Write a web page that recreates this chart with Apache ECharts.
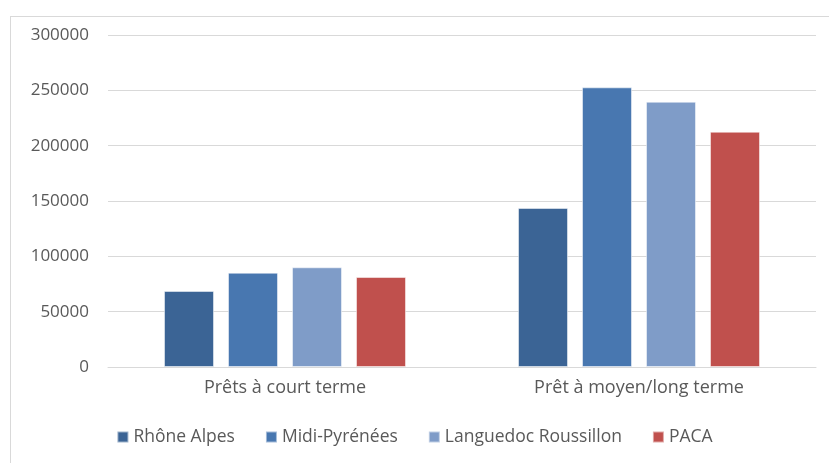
<!DOCTYPE html>
<html><head><meta charset="utf-8">
<script src="https://cdn.jsdelivr.net/npm/echarts@6/dist/echarts.min.js"></script>
<style>
html,body{margin:0;padding:0;background:#fff;}
#frame{position:absolute;left:10px;top:16px;width:830px;height:460px;border:1px solid #d9d9d9;box-sizing:border-box;}
#c{position:absolute;left:0;top:0;width:829px;height:463px;}
</style></head>
<body>
<div id="frame"></div>
<div id="c"></div>
<script>
const categories = ['Prêts à court terme', 'Prêt à moyen/long terme'];
const seriesNames = ['Rhône Alpes', 'Midi-Pyrénées', 'Languedoc Roussillon', 'PACA'];
const rhoneAlpes = [68700, 143700];
const midiPyrenees = [85200, 252700];
const languedocRoussillon = [90100, 239700];
const paca = [81300, 212600];
const colors = ['#3B6495', '#4877B0', '#7F9CC8', '#C0504D'];

const values = [rhoneAlpes, midiPyrenees, languedocRoussillon, paca];
const font = '"Open Sans", sans-serif';
const chart = echarts.init(document.getElementById('c'));
chart.setOption({
  animation: false,
  color: colors,
  grid: {left: 108, right: 13, top: 35, bottom: 96},
  legend: {
    bottom: 12, left: 'center', itemWidth: 11, itemHeight: 11, itemGap: 30,
    icon: 'rect',
    textStyle: {color: '#595959', fontSize: 17.5, fontFamily: font},
    data: seriesNames
  },
  xAxis: {
    type: 'category', data: categories,
    axisLine: {lineStyle: {color: '#d9d9d9', width: 1}},
    axisTick: {show: false},
    axisLabel: {color: '#595959', fontSize: 18, fontFamily: font, margin: 12}
  },
  yAxis: {
    type: 'value', min: 0, max: 300000, interval: 50000,
    axisLine: {show: false}, axisTick: {show: false},
    splitLine: {lineStyle: {color: '#d9d9d9', width: 1}},
    axisLabel: {color: '#595959', fontSize: 17, fontFamily: font, margin: 19,
      formatter: v => String(v)}
  },
  series: seriesNames.map((n, i) => ({
    name: n, type: 'bar', data: values[i], barWidth: 50, barGap: '28%',
    itemStyle: {color: colors[i], borderColor: 'rgba(255,255,255,0.5)', borderWidth: 1}
  }))
});
</script>
</body></html>
